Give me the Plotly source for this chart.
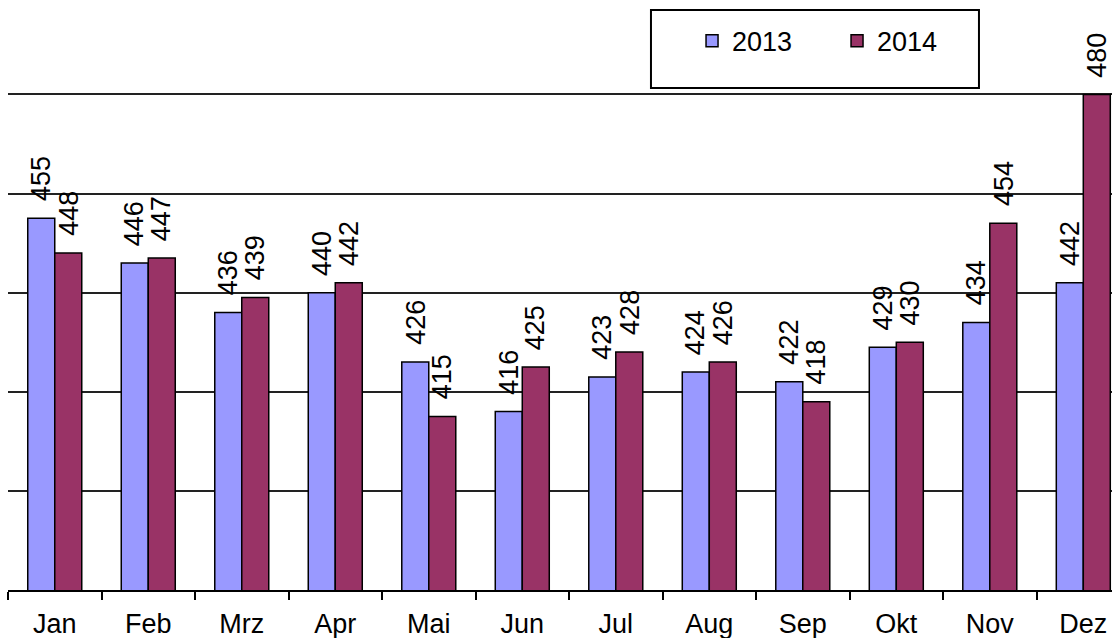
import plotly.graph_objects as go

months = ["Jan", "Feb", "Mrz", "Apr", "Mai", "Jun", "Jul", "Aug", "Sep", "Okt", "Nov", "Dez"]
values_2013 = [455, 446, 436, 440, 426, 416, 423, 424, 422, 429, 434, 442]
values_2014 = [448, 447, 439, 442, 415, 425, 428, 426, 418, 430, 454, 480]
series_names = ["2013", "2014"]
series_colors = ["#9999FF", "#993366"]

FONT = "Liberation Sans, Arial, sans-serif"

fig = go.Figure()
for name, vals, col in zip(series_names, [values_2013, values_2014], series_colors):
    fig.add_trace(go.Bar(
        x=months, y=vals, name=name,
        marker=dict(color=col, line=dict(color="black", width=1.5)),
    ))

# rotated value labels above bars
annotations = []
for si, vals in enumerate([values_2013, values_2014]):
    shift = -13.5 if si == 0 else 13.5
    for m, v in zip(months, vals):
        annotations.append(dict(
            x=m, y=v, xref="x", yref="y", text=str(v), showarrow=False,
            textangle=-90, xanchor="center", yanchor="bottom",
            xshift=shift, yshift=15,
            font=dict(family=FONT, size=27, color="black"),
        ))

fig.update_layout(
    width=1112, height=638,
    margin=dict(l=8, r=0, t=0, b=47.5),
    paper_bgcolor="white", plot_bgcolor="white",
    barmode="group", bargap=0.4225, bargroupgap=0,
    font=dict(family=FONT, color="black"),
    annotations=annotations,
    showlegend=True,
    legend=dict(
        orientation="h", x=0.6196, y=0.93, xanchor="left", yanchor="middle",
        bgcolor="rgba(0,0,0,0)", borderwidth=0,
        font=dict(family=FONT, size=27, color="black"),
        itemwidth=30, entrywidth=100, entrywidthmode="pixels",
    ),
    shapes=[dict(
        type="rect", xref="paper", yref="paper",
        x0=0.5824, x1=0.8795, y0=0.851, y1=0.983,
        line=dict(color="black", width=2), fillcolor="white", layer="below",
    )],
    xaxis=dict(
        range=[-0.5, 11.307], showgrid=False, zeroline=False,
        showline=True, linecolor="black", linewidth=2,
        ticks="outside", tickson="boundaries", ticklen=8, tickwidth=2, tickcolor="black",
        ticklabelstandoff=9,
        tickfont=dict(family=FONT, size=27, color="black"),
    ),
    yaxis=dict(
        range=[380, 499.05], dtick=20, tick0=380, showgrid=True,
        gridcolor="#222222", gridwidth=2, showticklabels=False,
        zeroline=False, showline=False, ticks="",
    ),
)

fig.write_html(
    "out.html",
    config={"displayModeBar": False},
    post_script="document.body.style.margin='0';document.body.style.overflow='hidden';",
)
